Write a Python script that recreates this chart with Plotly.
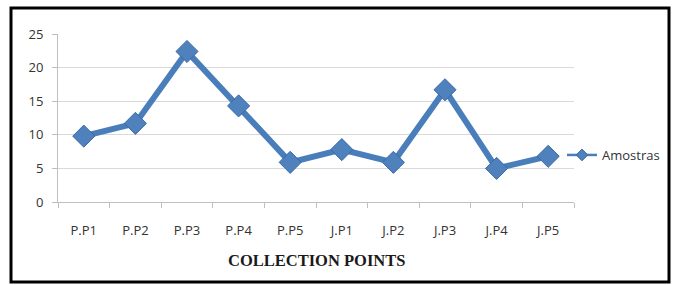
import plotly.graph_objects as go

categories = ["P.P1", "P.P2", "P.P3", "P.P4", "P.P5", "J.P1", "J.P2", "J.P3", "J.P4", "J.P5"]
amostras = [9.8, 11.7, 22.4, 14.3, 5.9, 7.8, 5.9, 16.7, 5.0, 6.8]
y_ticks = [0, 5, 10, 15, 20, 25]

L, R, T, B = 58, 99, 34, 83
W, H = 673, 285
pw, ph = W - L - R, H - T - B

def px_x(px):
    return (px - L) / pw

def px_y(py):
    return (H - B - py) / ph

fig = go.Figure()
fig.add_trace(go.Scatter(
    x=categories, y=amostras, name="Amostras", mode="lines+markers",
    line=dict(color="#4A7EBB", width=6),
    marker=dict(symbol="diamond", size=17, color="#4F81BD",
                line=dict(color="#3A6AA5", width=1)),
    showlegend=False,
))
# legend-only entry (smaller sample like the original legend key)
fig.add_trace(go.Scatter(
    x=[None], y=[None], name="Amostras", mode="lines+markers",
    line=dict(color="#4A7EBB", width=2.5),
    marker=dict(symbol="diamond", size=9, color="#4F81BD",
                line=dict(color="#3A6AA5", width=1)),
    showlegend=True,
))

fig.update_layout(
    width=W, height=H,
    margin=dict(l=L, r=R, t=T, b=B, autoexpand=False),
    paper_bgcolor="white", plot_bgcolor="white",
    font=dict(family="Open Sans, Liberation Sans, sans-serif", size=13, color="#333333"),
    showlegend=True,
    legend=dict(x=px_x(562), y=px_y(155), xanchor="left", yanchor="middle",
                font=dict(size=13, color="#333333"), bgcolor="rgba(0,0,0,0)",
                itemwidth=30, tracegroupgap=0),
    xaxis=dict(type="category", range=[-0.5, 9.5], showgrid=False,
               showline=True, linecolor="#BFBFBF", linewidth=1,
               ticks="outside", tickson="boundaries", ticklen=5, tickcolor="#BFBFBF",
               ticklabelstandoff=16, zeroline=False, fixedrange=True),
    yaxis=dict(range=[0, 25], tickvals=y_ticks, showgrid=True, gridcolor="#D9D9D9",
               gridwidth=1, showline=True, linecolor="#BFBFBF", linewidth=1,
               ticks="outside", ticklen=5, tickcolor="#BFBFBF",
               ticklabelstandoff=6, zeroline=False, fixedrange=True),
    annotations=[dict(text="<b>COLLECTION POINTS</b>", xref="paper", yref="paper",
                      x=0.5, y=px_y(260), xanchor="center", yanchor="middle",
                      showarrow=False,
                      font=dict(family="Liberation Serif, Times New Roman, serif",
                                size=16.5, color="#1a1a1a"))],
    shapes=[dict(type="rect", xref="paper", yref="paper",
                 x0=px_x(11), x1=px_x(669), y0=px_y(282), y1=px_y(8),
                 line=dict(color="black", width=3), fillcolor="rgba(0,0,0,0)",
                 layer="above")],
)

fig.write_html("out.html", config={"displayModeBar": False},
               post_script="document.body.style.margin='0px';document.body.style.overflow='hidden';")
